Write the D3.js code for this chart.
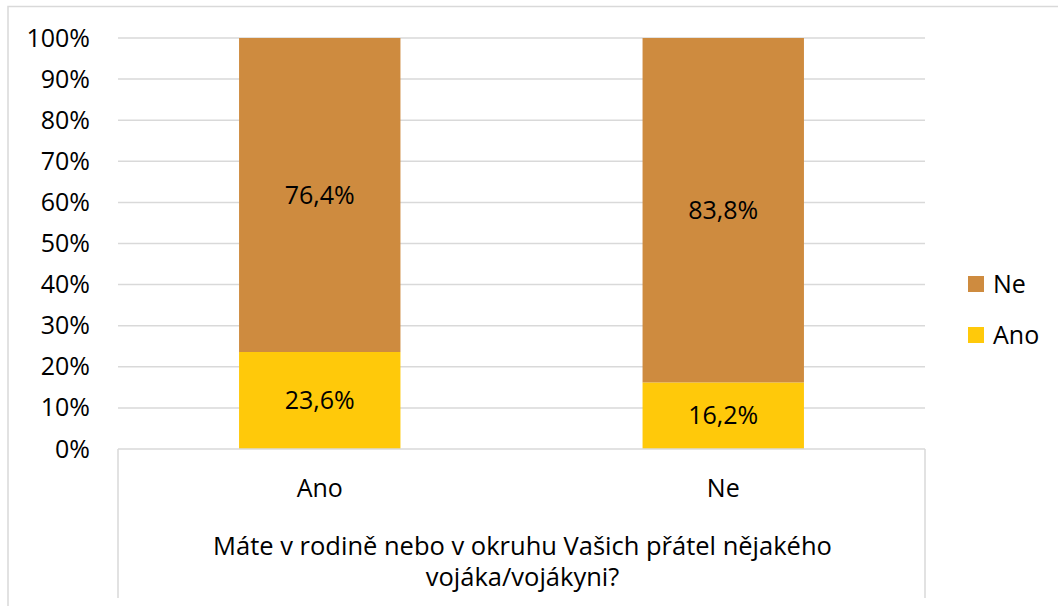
<!DOCTYPE html>
<html>
<head>
<meta charset="utf-8">
<script src="https://cdn.jsdelivr.net/npm/d3@7"></script>
<style>
  body { margin: 0; background: #fff; }
  svg { display: block; font-family: 'Open Sans', 'Noto Sans', sans-serif; }
</style>
</head>
<body>
<div id="chart"></div>
<script>
// Stacked 100% column chart — answers by category

const categories = ['Ano', 'Ne'];
const seriesNames = ['Ano', 'Ne'];           // stack order bottom -> top
const anoValues = [23.6, 16.2];
const neValues  = [76.4, 83.8];
const yTicks = [0, 10, 20, 30, 40, 50, 60, 70, 80, 90, 100];
const axisTitle = ['Máte v rodině nebo v okruhu Vašich přátel nějakého', 'vojáka/vojákyni?'];

const COLORS = { Ano: '#FFC90A', Ne: '#CE8B3F' };
const FS = 25;

const W = 1058, H = 606;
const plot = { left: 118, right: 925, top: 38, bottom: 449 };

const svg = d3.select('#chart').append('svg')
  .attr('width', W).attr('height', H);

// outer chart border
svg.append('rect')
  .attr('x', 8).attr('y', 6.5)
  .attr('width', W + 10).attr('height', H + 10)
  .attr('fill', 'none')
  .attr('stroke', '#D9D9D9')
  .attr('stroke-width', 1.5);

const x = d3.scaleBand()
  .domain(categories)
  .range([plot.left, plot.right])
  .paddingInner(0.6)
  .paddingOuter(0.3);

const y = d3.scaleLinear()
  .domain([0, 100])
  .range([plot.bottom, plot.top]);

// gridlines
svg.append('g')
  .selectAll('line')
  .data(yTicks.filter(t => t > 0))
  .join('line')
  .attr('x1', plot.left).attr('x2', plot.right)
  .attr('y1', d => y(d)).attr('y2', d => y(d))
  .attr('stroke', '#D9D9D9')
  .attr('stroke-width', 1.5);

// y axis labels
const yAxis = svg.append('g')
  .attr('transform', `translate(${plot.left},0)`)
  .call(d3.axisLeft(y).tickValues(yTicks).tickFormat(d => d + '%').tickSize(0).tickPadding(28));
yAxis.select('.domain').remove();
yAxis.selectAll('text')
  .attr('font-size', FS)
  .attr('font-family', "'Open Sans', sans-serif")
  .attr('fill', '#000');

// stacked data
const rows = categories.map((c, i) => ({ cat: c, Ano: anoValues[i], Ne: neValues[i] }));
const stack = d3.stack().keys(seriesNames)(rows);

const layers = svg.append('g')
  .selectAll('g')
  .data(stack)
  .join('g')
  .attr('fill', d => COLORS[d.key]);

layers.selectAll('rect')
  .data(d => d)
  .join('rect')
  .attr('x', d => x(d.data.cat))
  .attr('width', x.bandwidth())
  .attr('y', d => y(d[1]))
  .attr('height', d => y(d[0]) - y(d[1]));

layers.selectAll('text')
  .data(d => d.map(s => ({ s, key: d.key })))
  .join('text')
  .attr('x', d => x(d.s.data.cat) + x.bandwidth() / 2)
  .attr('y', d => (y(d.s[0]) + y(d.s[1])) / 2)
  .attr('dy', '0.35em')
  .attr('text-anchor', 'middle')
  .attr('font-size', FS)
  .attr('fill', '#000')
  .text(d => d.s.data[d.key].toFixed(1).replace('.', ',') + '%');

// category axis box
const axisG = svg.append('g').attr('stroke', '#D9D9D9').attr('stroke-width', 1.5);
axisG.append('line')
  .attr('x1', plot.left).attr('x2', plot.right)
  .attr('y1', plot.bottom).attr('y2', plot.bottom);
axisG.append('line')
  .attr('x1', plot.left).attr('x2', plot.left)
  .attr('y1', plot.bottom).attr('y2', 598);
axisG.append('line')
  .attr('x1', plot.right).attr('x2', plot.right)
  .attr('y1', plot.bottom).attr('y2', 598);

svg.append('g')
  .selectAll('text')
  .data(categories)
  .join('text')
  .attr('x', d => x(d) + x.bandwidth() / 2)
  .attr('y', 497)
  .attr('text-anchor', 'middle')
  .attr('font-size', FS)
  .attr('fill', '#000')
  .text(d => d);

svg.append('g')
  .selectAll('text')
  .data(axisTitle)
  .join('text')
  .attr('x', (plot.left + plot.right) / 2 + 1)
  .attr('y', (d, i) => 555 + i * 31)
  .attr('text-anchor', 'middle')
  .attr('font-size', FS + 0.5)
  .attr('fill', '#000')
  .text(d => d);

// legend (top entry = top of stack)
const legendItems = seriesNames.slice().reverse();
const legend = svg.append('g')
  .selectAll('g')
  .data(legendItems)
  .join('g')
  .attr('transform', (d, i) => `translate(968,${276 + i * 51})`);
legend.append('rect')
  .attr('width', 16).attr('height', 16)
  .attr('fill', d => COLORS[d]);
legend.append('text')
  .attr('x', 25).attr('y', 17)
  .attr('font-size', FS)
  .attr('fill', '#000')
  .text(d => d);
</script>
</body>
</html>
